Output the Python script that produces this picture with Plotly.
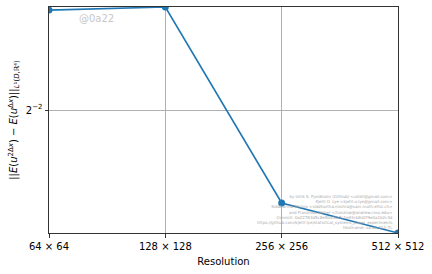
import math
import plotly.graph_objects as go

resolutions = [64, 128, 256, 512]
tick_labels = ["64 × 64", "128 × 128", "256 × 256", "512 × 512"]
errors = [0.4135, 0.42, 0.1567, 0.1347]

credit_lines = [
    "by Ulrik S. Fjordholm (GitHub) &lt;ulrikf@gmail.com&gt;",
    "Kjetil O. Lye &lt;kjetil.o.lye@gmail.com&gt;",
    "Siddhartha Mishra &lt;siddhartha.mishra@sam.math.ethz.ch&gt;",
    "and Franziska Weber &lt;franzisw@andrew.cmu.edu&gt;",
    "Commit: 0a22783d5c8e5b4f6a7c1e93cb8d2f9e0a1b2c3d",
    "https://github.com/kjetil-lye/statistical_systems_paper_experiments",
    "Hostname: sa-ab-012-7c",
]

fig = go.Figure()
fig.add_trace(go.Scatter(
    x=resolutions, y=errors, mode="lines+markers",
    line=dict(color="#1f77b4", width=1.6),
    marker=dict(color="#1f77b4", size=7),
    showlegend=False,
))

ymin = min(errors)
ymax = max(errors)

fig.update_layout(
    width=432, height=274,
    margin=dict(l=49, r=34, t=7, b=41),
    plot_bgcolor="white", paper_bgcolor="white",
    font=dict(family="DejaVu Sans", size=10, color="black"),
    xaxis=dict(
        type="log",
        range=[math.log10(resolutions[0]), math.log10(resolutions[-1])],
        tickvals=resolutions, ticktext=tick_labels,
        showgrid=True, gridcolor="#b0b0b0", gridwidth=0.8,
        showline=True, linecolor="#333333", linewidth=1, mirror=True,
        ticks="outside", ticklen=3.5, tickcolor="#333333",
        title=dict(text="Resolution", font=dict(size=10), standoff=7),
        zeroline=False,
    ),
    yaxis=dict(
        type="log",
        range=[math.log10(ymin), math.log10(ymax)],
        tickvals=[0.25], ticktext=["2<sup>−2</sup>"],
        showgrid=True, gridcolor="#b0b0b0", gridwidth=0.8,
        showline=True, linecolor="#333333", linewidth=1, mirror=True,
        ticks="outside", ticklen=3.5, tickcolor="#333333",
        title=dict(
            text="||<i>E</i>(<i>u</i><sup>2Δ<i>x</i></sup>) − <i>E</i>(<i>u</i><sup>Δ<i>x</i></sup>)||<sub><i>L</i>¹(<i>D</i>,ℝ⁴)</sub>",
            font=dict(size=10), standoff=6,
        ),
        zeroline=False,
    ),
)

fig.add_annotation(
    text="@0a22", xref="paper", yref="paper", x=0.1375, y=0.95,
    xanchor="center", yanchor="middle", showarrow=False,
    font=dict(size=10, color="#c8c8c8"),
)

fig.add_annotation(
    text="<br>".join(credit_lines), xref="paper", yref="paper",
    x=0.99, y=0.005, xanchor="right", yanchor="bottom", align="right",
    showarrow=False, font=dict(size=4, color="#a8a8a8"),
)

fig.write_html("out.html")
